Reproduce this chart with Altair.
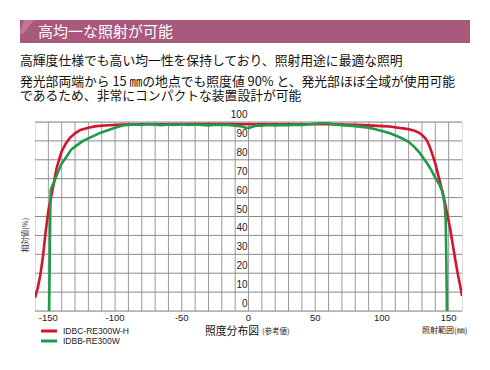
import altair as alt
import pandas as pd

# ---------------- data ----------------
red_x = [-160, -158, -156, -154, -152, -150, -148, -146, -144, -142, -140, -137, -134, -130, -126, -120, -114,
         -105, -95, -80, -60, -40, -20, 0, 20, 40, 60, 80, 90, 100, 106, 112, 117, 121, 125, 128.5, 131, 133.5,
         135.5, 137.5, 140, 142.5, 145, 147, 149, 151, 153, 155, 157, 159, 160]
red_y = [7, 12, 19, 29, 42, 53, 60, 67, 75, 80, 84.5, 88.5, 91.5, 94, 95.8, 97, 97.8,
         98.3, 98.6, 98.8, 98.8, 98.9, 98.9, 98.8, 98.8, 98.8, 98.8, 98.5, 98.2, 97.8, 97.6, 97, 96.5, 96, 95.2, 94,
         92.5, 90.5, 87.5, 83.5, 78, 71, 64, 58, 51, 44, 35.5, 27, 19, 12, 8]

green_x = [-149.4, -149.0, -148.6, -148.2, -147.5, -146.5, -145, -142.5, -140, -136, -133, -129, -124, -118, -112,
           -106, -100, -95, -90, -85, -80, -75, -70, -65, -60, -55, -50, -45, -40, -35, -30, -25, -20, -15, -10,
           -5, -2, 0, 3, 6, 10, 15, 20, 25, 30, 35, 40, 45, 50, 55, 58, 62, 66, 70, 75, 80, 85, 90, 95, 100, 106,
           112, 116, 120, 124, 128, 131, 134, 137, 140, 143, 145.5, 147, 147.8, 148.3, 148.7]
green_y = [0, 25, 50, 64, 65.5, 67, 69.5, 74, 78, 82, 85.3, 87.5, 90, 92, 94, 95.5, 97, 98, 98.5, 98.8, 98.4,
           98.9, 98.6, 98.3, 98.7, 98.5, 98.8, 98.4, 98.7, 98.5, 98.2, 98.6, 98.4, 98.5, 98.1, 97.6, 97.0, 96.8,
           97.5, 98.2, 98.0, 98.4, 98.2, 98.5, 98.3, 98.6, 98.5, 98.8, 99.1, 99.4, 99.5, 99.0, 98.6, 98.3, 98.1,
           97.8, 97.4, 97.0, 96.2, 95.3, 94, 92.3, 91, 89.5, 87, 84, 81, 78, 74.5, 70.5, 67, 63, 56, 48, 25, 0]

series_names = ["IDBC-RE300W-H", "IDBB-RE300W"]
series_colors = ["#d2142c", "#1f9a4a"]

y_ticks = [0, 10, 20, 30, 40, 50, 60, 70, 80, 90, 100]
x_grid = list(range(-150, 151, 10))
x_labels = [-150, -100, -50, 0, 50, 100, 150]

title_text = "高均一な照射が可能"
body_lines = [
    "高輝度仕様でも高い均一性を保持しており、照射用途に最適な照明",
    "発光部両端から 15 ㎜の地点でも照度値 90% と、発光部ほぼ全域が使用可能",
    "であるため、非常にコンパクトな装置設計が可能",
]
x_title_main = "照度分布図"
x_title_sub = "(参考値)"
x_unit = "照射範囲(㎜)"
y_title = "相対値(%)"

# ---------------- build ----------------
W, H = 427, 189
df = pd.concat([
    pd.DataFrame({"x": red_x, "y": red_y, "s": series_names[0], "o": range(len(red_x))}),
    pd.DataFrame({"x": green_x, "y": green_y, "s": series_names[1], "o": range(len(green_x))}),
])

JP = "Noto Sans CJK JP"
NUM = "Liberation Sans Narrow, Liberation Sans, Arial"

xscale = alt.Scale(domain=[-160, 160], nice=False, zero=False)
yscale = alt.Scale(domain=[0, 100], nice=False)
cscale = alt.Scale(domain=series_names, range=series_colors)

vgrid = alt.Chart(pd.DataFrame({"g": x_grid})).mark_rule(color="#9a9a9a", strokeWidth=1).encode(
    x=alt.X("g:Q", scale=xscale, axis=None), y=alt.value(0), y2=alt.value(H))
hgrid = alt.Chart(pd.DataFrame({"g": y_ticks})).mark_rule(color="#8a8a8a", strokeWidth=1).encode(
    y=alt.Y("g:Q", scale=yscale, axis=None), x=alt.value(0), x2=alt.value(W))

lines = alt.Chart(df).mark_line(strokeWidth=2.6, clip=True).encode(
    x=alt.X("x:Q", scale=xscale, axis=None),
    y=alt.Y("y:Q", scale=yscale, axis=None),
    color=alt.Color("s:N", scale=cscale, legend=None),
    order="o:Q",
)

ylab = alt.Chart(pd.DataFrame({"v": y_ticks, "x0": [0] * len(y_ticks)})).mark_text(
    align="right", baseline="bottom", dx=-1, dy=-2, fontSize=10, font=NUM, color="#222"
).encode(x=alt.X("x0:Q", scale=xscale, axis=None), y=alt.Y("v:Q", scale=yscale, axis=None), text="v:Q")

xlab = alt.Chart(pd.DataFrame({"v": x_labels, "t": [str(v) for v in x_labels]})).mark_text(
    align="center", baseline="top", fontSize=9.5, font=NUM, color="#222"
).encode(x=alt.X("v:Q", scale=xscale, axis=None), y=alt.value(H + 2), text="t:N")


def txt(s, x, y, size, color="#111", font=JP, align="left", angle=0, baseline="middle", **extra):
    kw = dict(align=align, baseline=baseline, fontSize=size, font=font, color=color, **extra)
    if angle:
        kw["angle"] = angle
    return alt.Chart(pd.DataFrame({"t": [s]})).mark_text(**kw).encode(
        x=alt.value(x), y=alt.value(y), text="t:N")


band = alt.Chart(pd.DataFrame({"a": [0]})).mark_rect(color="#a9597b").encode(
    x=alt.value(-15), x2=alt.value(435), y=alt.value(-102), y2=alt.value(-79))
band_accent = alt.Chart(pd.DataFrame({"a": [0]})).mark_point(
    shape="M-0.4,-1L1,-1L-0.6,1L-1,1L-1,0.6Z", filled=True, color="#bd7893", opacity=1, size=196,
    strokeWidth=0).encode(x=alt.value(-8), y=alt.value(-95))

legend_df = pd.DataFrame({"s": series_names, "yy": [209, 219]})
leg_lines = alt.Chart(legend_df).mark_rule(strokeWidth=3).encode(
    x=alt.value(6), x2=alt.value(22), y=alt.Y("yy:Q", scale=None, axis=None),
    color=alt.Color("s:N", scale=cscale, legend=None))
leg_text = alt.Chart(legend_df).mark_text(align="left", baseline="middle", fontSize=8.5, font=NUM,
                                          color="#222").encode(
    x=alt.value(28), y=alt.Y("yy:Q", scale=None, axis=None), text="s:N")

chart = alt.layer(
    band,
    band_accent,
    txt(title_text, 3, -90, 15, color="white"),
    txt(body_lines[0], -15, -61, 12.8),
    txt(body_lines[1] + "\n" + body_lines[2], -15, -36, 12.8, baseline="alphabetic",
        lineBreak="\n", lineHeight=13.5),
    vgrid,
    hgrid,
    lines,
    ylab,
    xlab,
    txt(y_title, -9, 113, 7.5, color="#333", align="center", angle=270),
    txt(x_title_main, 170, 209.5, 10.8, color="#111"),
    txt(x_title_sub, 227, 210, 7.5, color="#222"),
    txt(x_unit, 387, 209, 8, color="#222"),
    leg_lines,
    leg_text,
).properties(
    width=W, height=H,
    autosize=alt.AutoSizeParams(type="none"),
    padding={"left": 27, "top": 114, "right": 20, "bottom": 51},
).configure_view(stroke="#8a8a8a", strokeWidth=1).configure(background="white")

chart.save("out.html", embed_options={"renderer": "svg", "actions": False})
